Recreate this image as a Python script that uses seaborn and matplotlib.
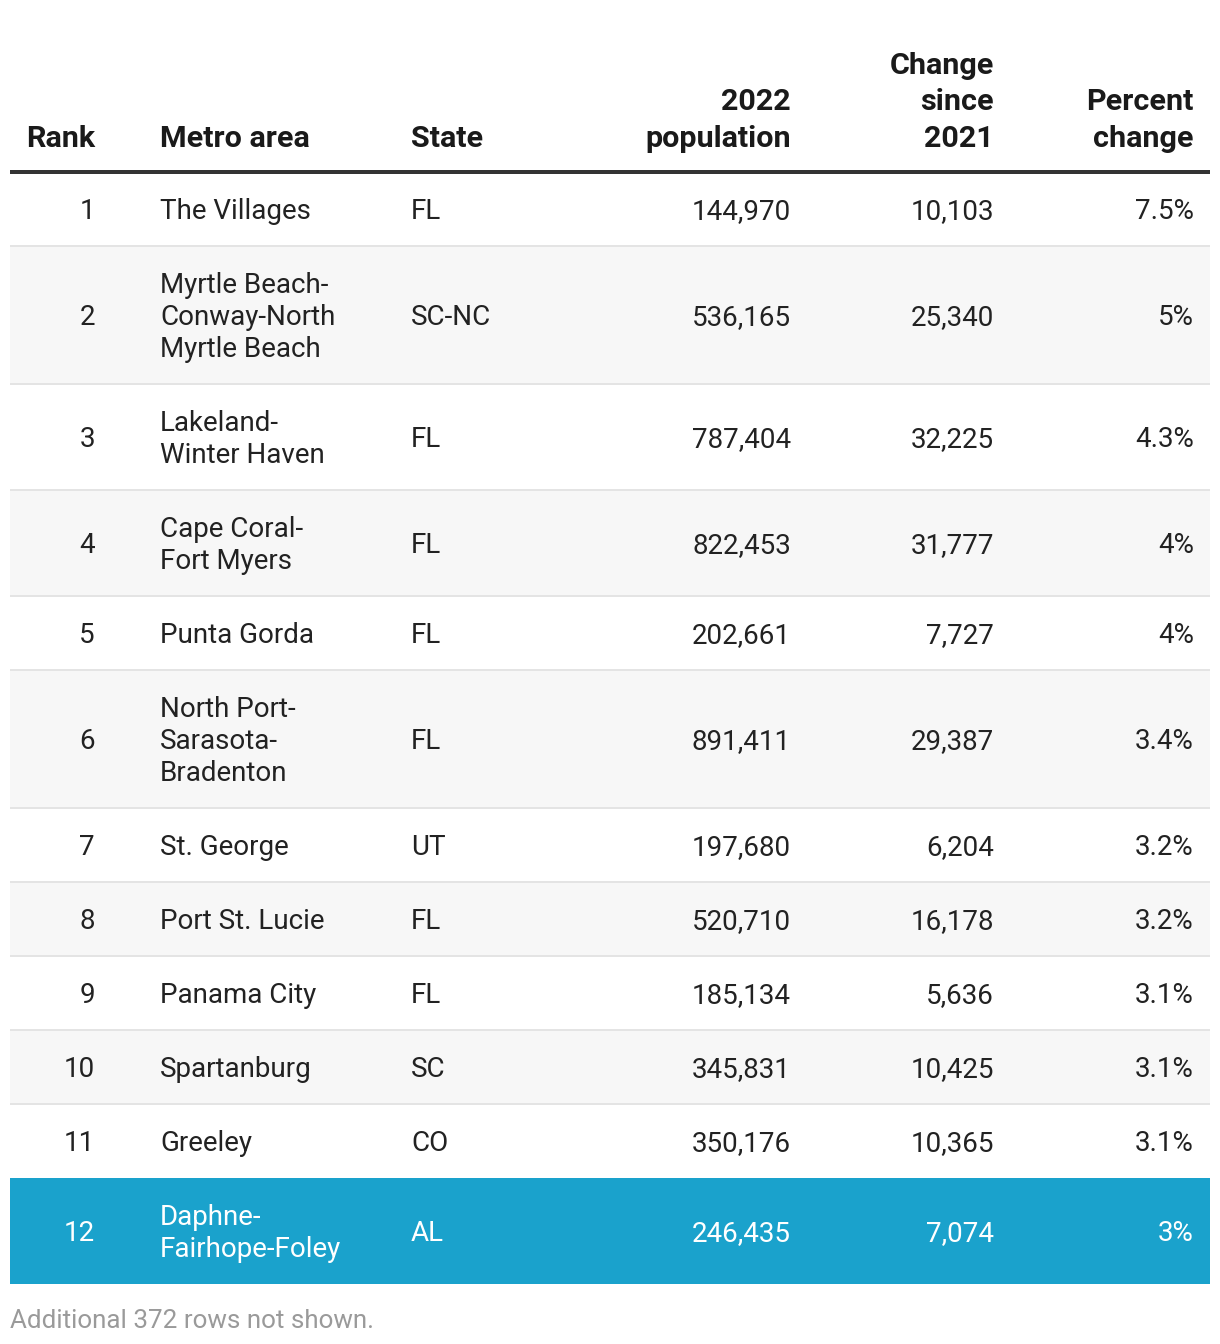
import matplotlib
matplotlib.use("Agg")
import matplotlib.pyplot as plt
import seaborn as sns

# ---- data ----
ranks = [1, 2, 3, 4, 5, 6, 7, 8, 9, 10, 11, 12]
metro_areas = [
    "The Villages",
    "Myrtle Beach-\nConway-North\nMyrtle Beach",
    "Lakeland-\nWinter Haven",
    "Cape Coral-\nFort Myers",
    "Punta Gorda",
    "North Port-\nSarasota-\nBradenton",
    "St. George",
    "Port St. Lucie",
    "Panama City",
    "Spartanburg",
    "Greeley",
    "Daphne-\nFairhope-Foley",
]
states = ["FL", "SC-NC", "FL", "FL", "FL", "FL", "UT", "FL", "FL", "SC", "CO", "AL"]
population_2022 = [144970, 536165, 787404, 822453, 202661, 891411, 197680, 520710,
                   185134, 345831, 350176, 246435]
change_since_2021 = [10103, 25340, 32225, 31777, 7727, 29387, 6204, 16178, 5636,
                     10425, 10365, 7074]
percent_change = ["7.5%", "5%", "4.3%", "4%", "4%", "3.4%", "3.2%", "3.2%", "3.1%",
                  "3.1%", "3.1%", "3%"]
headers = ["Rank", "Metro area", "State", "2022\npopulation", "Change\nsince\n2021",
           "Percent\nchange"]
highlight_rank = 12
footnote = "Additional 372 rows not shown."

# ---- style ----
sns.set_theme(style="white")
plt.rcParams["font.family"] = ["Roboto", "DejaVu Sans"]

W, H = 1220, 1344
fig = plt.figure(figsize=(W / 100, H / 100), dpi=100)
ax = fig.add_axes([0, 0, 1, 1])
ax.set_xlim(0, W)
ax.set_ylim(H, 0)
ax.axis("off")

PX = 0.72  # px -> pt at 100 dpi
body_fs = 27.8 * PX
head_fs = 30.5 * PX
text_col = "#222222"
blue = "#1aa2cc"
x_left, x_right = 10, 1210

# columns: (x, ha)
cols = [(95, "right"), (160, "left"), (411, "left"), (791, "right"), (994, "right"), (1194, "right")]

# header
head_base = 147
head_ls = 36.5
for (x, ha), h in zip(cols, headers):
    lines = h.split("\n")
    n = len(lines)
    for i, ln in enumerate(lines):
        y = head_base - (n - 1 - i) * head_ls
        ax.text(x, y, ln, ha=ha, va="baseline", fontsize=head_fs, fontweight="bold",
                color="#1a1a1a")

# rows
y = 172
line_h = 32
for r, (rk, m, s, p, c, pc) in enumerate(zip(ranks, metro_areas, states, population_2022,
                                              change_since_2021, percent_change)):
    n = len(m.split("\n"))
    h = 42 + line_h * n
    top, bot = y, y + h
    if rk == highlight_rank:
        bg, fg = blue, "white"
    elif r % 2 == 1:
        bg, fg = "#f7f7f7", text_col
    else:
        bg, fg = "white", text_col
    ax.axhspan(top, bot, xmin=x_left / W, xmax=x_right / W, color=bg, lw=0, zorder=0)
    if rk != highlight_rank and r < len(ranks) - 1 and ranks[r + 1] != highlight_rank:
        ax.plot([x_left, x_right], [bot, bot], color="#e4e4e4", lw=2 * PX, zorder=1,
                solid_capstyle="butt")
    center = (top + bot) / 2
    cells = [str(rk), m, s, f"{p:,}", f"{c:,}", pc]
    for (x, ha), cell in zip(cols, cells):
        lines = cell.split("\n")
        k = len(lines)
        for i, ln in enumerate(lines):
            yb = center + 10 + (i - (k - 1) / 2) * line_h
            ax.text(x, yb, ln, ha=ha, va="baseline", fontsize=body_fs, color=fg, zorder=3)
    y = bot

# header rule
ax.plot([x_left, x_right], [172, 172], color="#333333", lw=4 * PX, zorder=2,
        solid_capstyle="butt")

# footnote
ax.text(10, 1328, footnote, ha="left", va="baseline", fontsize=26 * PX, color="#9a9a9a")

fig.savefig("out.png", dpi=100, facecolor="white")
